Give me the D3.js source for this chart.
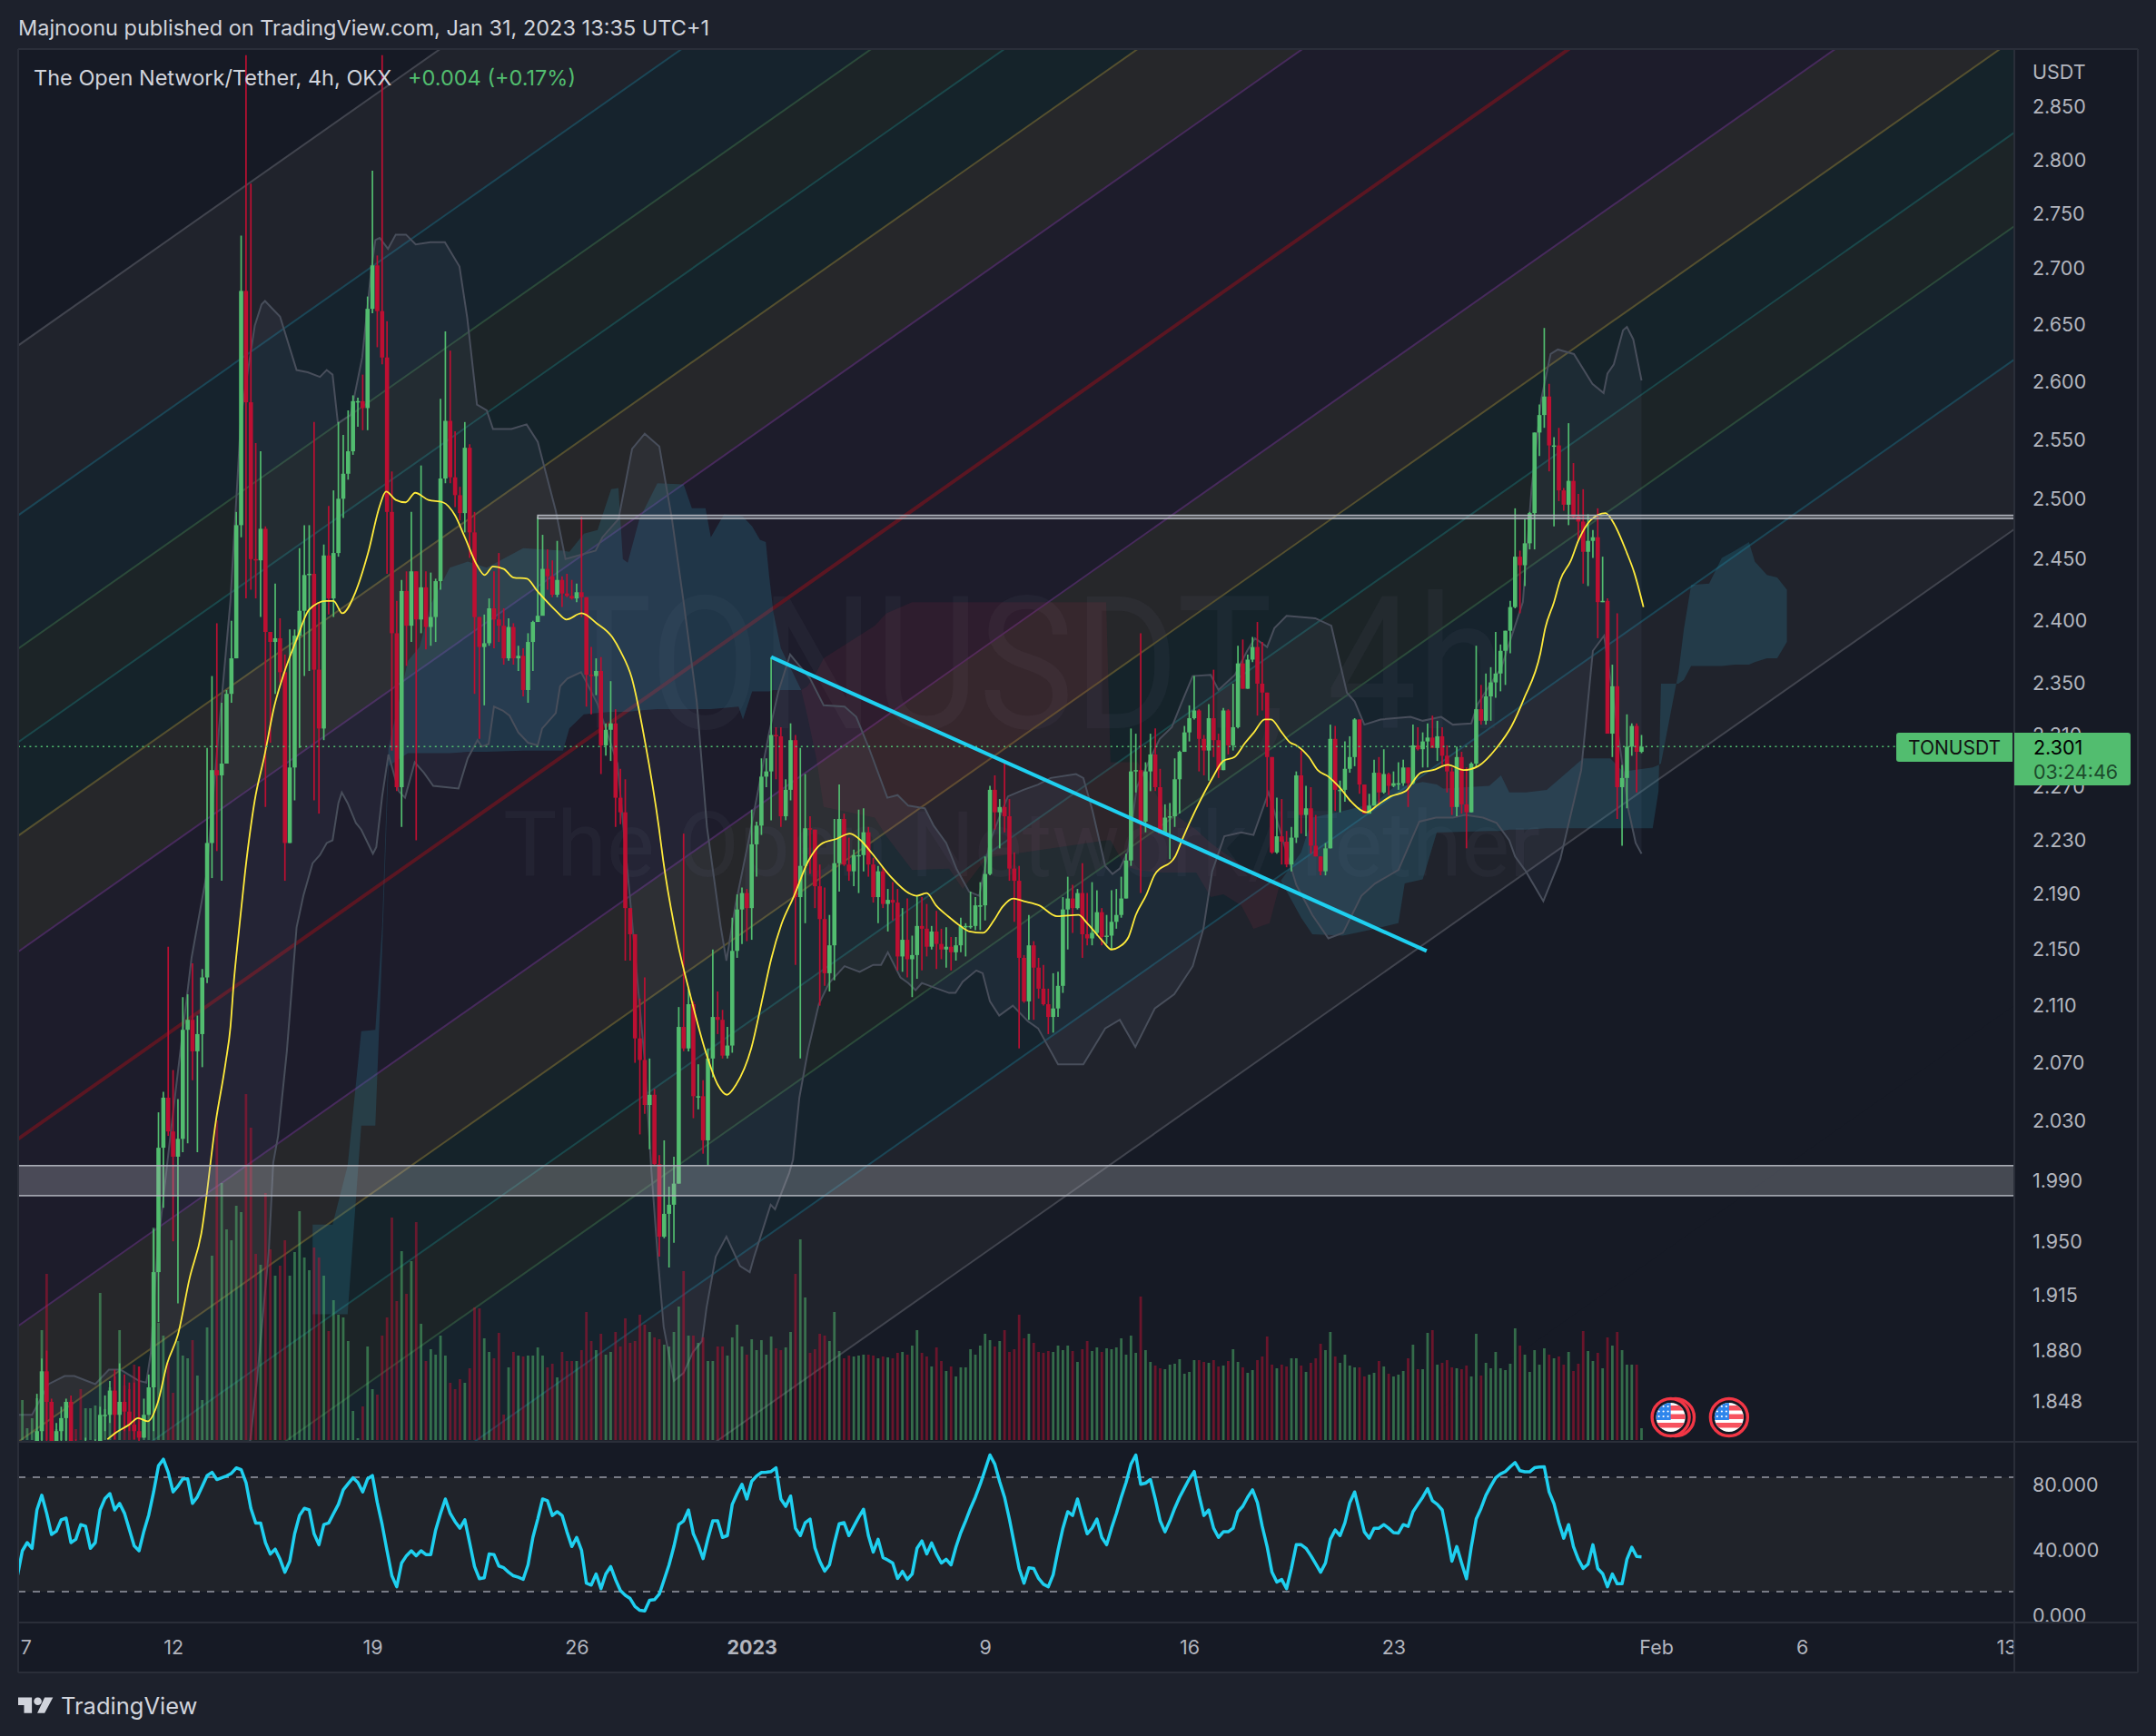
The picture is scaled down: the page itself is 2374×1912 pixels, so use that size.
<!DOCTYPE html>
<html>
<head lang="en">
<meta charset="utf-8">
<title>TONUSDT 4h</title>
<style>
html, body { margin:0; padding:0; background:#1d212c; }
svg { display:block; }
text { font-family:Inter,Roboto,"Noto Sans",sans-serif; }
.axis path, .axis line { display:none; }
.axis text { font-family:Inter,Roboto,"Noto Sans",sans-serif; font-size:21.5px; fill:#b2b5be; }
</style>
<script src="https://cdnjs.cloudflare.com/ajax/libs/d3/7.8.5/d3.min.js"></script>
</head>
<body>
<script>
// closes, highs, lows are read bar by bar (4h bars, index 0 = 7 Dec 00:00); a bar opens on the previous close
var closes = [1.805,1.81,1.815,1.83,1.867,1.848,1.82,1.83,1.838,1.848,
1.82,1.815,1.81,1.812,1.815,1.818,1.84,1.84,1.855,1.84,
1.848,1.842,1.834,1.83,1.826,1.84,1.857,1.93,2.012,2.046,
2.023,2.006,2.018,2.093,2.1,2.078,2.09,2.13,2.228,2.283,
2.279,2.288,2.342,2.37,2.478,2.68,2.582,2.45,2.449,2.475,
2.391,2.383,2.386,2.359,2.228,2.285,2.388,2.408,2.437,2.438,
2.361,2.315,2.453,2.418,2.455,2.5,2.521,2.54,2.583,2.583,
2.577,2.664,2.703,2.662,2.621,2.489,2.39,2.27,2.424,2.396,
2.44,2.401,2.427,2.395,2.403,2.432,2.517,2.566,2.518,2.503,
2.488,2.543,2.472,2.403,2.379,2.382,2.41,2.401,2.396,2.37,
2.395,2.37,2.372,2.345,2.383,2.399,2.404,2.442,2.436,2.421,
2.433,2.422,2.42,2.418,2.423,2.419,2.357,2.356,2.36,2.302,
2.314,2.319,2.262,2.251,2.18,2.161,2.087,2.072,2.041,2.048,
2.001,1.953,1.968,1.974,1.988,2.095,2.08,2.111,2.047,2.047,
2.017,2.073,2.102,2.1,2.075,2.082,2.149,2.179,2.191,2.18,
2.227,2.241,2.278,2.282,2.31,2.309,2.248,2.268,2.306,2.188,
2.211,2.239,2.238,2.196,2.172,2.133,2.153,2.213,2.246,2.212,
2.207,2.219,2.219,2.236,2.212,2.188,2.207,2.183,2.186,2.184,
2.145,2.157,2.143,2.146,2.167,2.165,2.152,2.163,2.154,2.15,
2.152,2.148,2.153,2.167,2.167,2.167,2.182,2.182,2.205,2.268,
2.251,2.255,2.248,2.209,2.2,2.144,2.113,2.153,2.137,2.122,
2.111,2.102,2.108,2.124,2.179,2.187,2.18,2.191,2.161,2.158,
2.162,2.177,2.159,2.16,2.17,2.175,2.187,2.215,2.282,2.283,
2.244,2.282,2.295,2.27,2.235,2.247,2.248,2.276,2.297,2.312,
2.323,2.329,2.307,2.298,2.323,2.306,2.283,2.329,2.302,2.316,
2.366,2.346,2.369,2.379,2.35,2.343,2.293,2.221,2.233,2.229,
2.212,2.232,2.279,2.249,2.254,2.226,2.218,2.207,2.224,2.307,
2.268,2.268,2.284,2.293,2.322,2.272,2.25,2.256,2.281,2.266,
2.28,2.271,2.273,2.273,2.285,2.273,2.302,2.299,2.305,2.308,
2.3,2.309,2.294,2.282,2.255,2.293,2.257,2.251,2.288,2.33,
2.321,2.34,2.351,2.358,2.376,2.392,2.411,2.452,2.445,2.463,
2.488,2.556,2.571,2.587,2.545,2.545,2.507,2.495,2.515,2.485,
2.481,2.456,2.465,2.468,2.415,2.416,2.311,2.348,2.27,2.277,
2.301,2.317,2.297,2.301];

var highs = [1.815,1.818,1.82,1.853,1.875,1.88,1.85,1.835,1.845,1.85,
1.852,1.825,1.82,1.826,1.822,1.825,1.845,1.852,1.861,1.868,
1.872,1.865,1.86,1.86,1.87,1.85,1.865,1.958,2.036,2.05,
2.152,2.065,2.045,2.116,2.118,2.14,2.103,2.136,2.3,2.356,
2.398,2.335,2.345,2.4,2.489,2.73,2.9,2.778,2.547,2.54,
2.477,2.391,2.43,2.402,2.373,2.393,2.393,2.459,2.478,2.478,
2.565,2.415,2.462,2.494,2.507,2.565,2.554,2.575,2.588,2.586,
2.606,2.675,2.79,2.712,2.9,2.653,2.523,2.416,2.433,2.44,
2.489,2.44,2.528,2.44,2.439,2.434,2.585,2.644,2.627,2.557,
2.51,2.565,2.546,2.489,2.403,2.405,2.418,2.44,2.455,2.41,
2.402,2.398,2.38,2.378,2.39,2.4,2.485,2.47,2.458,2.449,
2.465,2.436,2.438,2.433,2.43,2.485,2.419,2.379,2.37,2.371,
2.319,2.352,2.33,2.284,2.276,2.18,2.161,2.115,2.13,2.073,
2.052,2.007,2.017,1.986,2.006,2.109,2.235,2.122,2.113,2.069,
2.058,2.08,2.15,2.12,2.107,2.095,2.173,2.19,2.195,2.194,
2.253,2.244,2.292,2.292,2.371,2.316,2.316,2.276,2.319,2.31,
2.3,2.28,2.248,2.238,2.212,2.195,2.175,2.246,2.272,2.25,
2.232,2.223,2.253,2.254,2.24,2.217,2.211,2.21,2.194,2.199,
2.194,2.18,2.187,2.16,2.189,2.188,2.183,2.167,2.178,2.165,
2.166,2.159,2.159,2.173,2.169,2.192,2.188,2.199,2.218,2.271,
2.279,2.261,2.289,2.261,2.221,2.211,2.146,2.175,2.156,2.144,
2.139,2.122,2.133,2.134,2.188,2.203,2.197,2.194,2.213,2.191,
2.199,2.193,2.18,2.175,2.193,2.194,2.203,2.22,2.315,2.311,
2.39,2.289,2.311,2.315,2.284,2.257,2.258,2.292,2.298,2.317,
2.333,2.356,2.33,2.31,2.334,2.361,2.311,2.331,2.33,2.35,
2.38,2.385,2.373,2.387,2.399,2.383,2.343,2.293,2.262,2.261,
2.237,2.24,2.282,2.298,2.271,2.27,2.249,2.218,2.228,2.318,
2.317,2.275,2.305,2.309,2.323,2.322,2.272,2.265,2.291,2.293,
2.299,2.281,2.282,2.289,2.291,2.285,2.318,2.316,2.312,2.319,
2.325,2.321,2.316,2.302,2.285,2.301,2.297,2.285,2.289,2.38,
2.349,2.358,2.363,2.391,2.381,2.392,2.416,2.492,2.457,2.483,
2.489,2.556,2.58,2.647,2.598,2.552,2.56,2.509,2.564,2.53,
2.504,2.508,2.487,2.474,2.492,2.452,2.418,2.365,2.406,2.287,
2.326,2.319,2.319,2.31];

var lows = [1.8,1.8,1.805,1.81,1.815,1.82,1.81,1.81,1.81,1.82,
1.81,1.805,1.8,1.8,1.805,1.81,1.815,1.83,1.835,1.825,
1.83,1.83,1.83,1.825,1.82,1.826,1.84,1.83,1.898,1.972,
2.02,1.95,1.91,2.009,2.015,2.058,2.009,2.067,2.126,2.202,
2.222,2.2,2.288,2.335,2.37,2.468,2.418,2.425,2.418,2.403,
2.255,2.304,2.342,2.351,2.2,2.228,2.26,2.3,2.356,2.36,
2.26,2.25,2.306,2.405,2.403,2.452,2.484,2.516,2.537,2.561,
2.558,2.558,2.66,2.63,2.615,2.438,2.298,2.267,2.24,2.364,
2.383,2.23,2.39,2.377,2.38,2.383,2.425,2.513,2.513,2.493,
2.482,2.472,2.451,2.342,2.307,2.333,2.38,2.378,2.383,2.365,
2.368,2.365,2.36,2.34,2.335,2.36,2.4,2.406,2.425,2.419,
2.419,2.411,2.419,2.417,2.415,2.403,2.332,2.326,2.341,2.28,
2.294,2.29,2.24,2.242,2.142,2.142,2.07,2.021,2.035,2.011,
2.0,1.94,1.952,1.933,1.949,1.988,2.078,2.078,2.032,2.038,
2.008,2.0,2.06,2.09,2.073,2.073,2.077,2.144,2.154,2.156,
2.157,2.203,2.234,2.27,2.245,2.276,2.24,2.245,2.26,2.139,
2.073,2.169,2.205,2.18,2.11,2.124,2.12,2.128,2.192,2.211,
2.2,2.196,2.191,2.207,2.203,2.184,2.169,2.18,2.163,2.171,
2.135,2.134,2.13,2.116,2.129,2.135,2.145,2.15,2.136,2.143,
2.137,2.135,2.142,2.148,2.145,2.165,2.164,2.164,2.171,2.204,
2.238,2.224,2.236,2.2,2.17,2.08,2.112,2.1,2.1,2.115,
2.11,2.09,2.091,2.102,2.119,2.15,2.162,2.179,2.144,2.153,
2.153,2.16,2.153,2.154,2.15,2.165,2.173,2.187,2.211,2.266,
2.191,2.236,2.267,2.267,2.235,2.235,2.216,2.24,2.25,2.297,
2.305,2.322,2.282,2.279,2.275,2.293,2.277,2.283,2.295,2.298,
2.315,2.346,2.346,2.367,2.325,2.329,2.255,2.22,2.22,2.212,
2.21,2.207,2.228,2.235,2.233,2.22,2.218,2.204,2.204,2.224,
2.252,2.251,2.259,2.281,2.286,2.265,2.25,2.25,2.256,2.257,
2.265,2.264,2.27,2.268,2.271,2.255,2.272,2.298,2.285,2.285,
2.3,2.29,2.287,2.266,2.249,2.248,2.25,2.224,2.251,2.285,
2.318,2.318,2.321,2.339,2.344,2.349,2.374,2.41,2.406,2.428,
2.458,2.458,2.536,2.56,2.523,2.477,2.498,2.49,2.478,2.483,
2.465,2.43,2.428,2.451,2.386,2.415,2.311,2.293,2.246,2.226,
2.254,2.294,2.266,2.296];

var volumes = [44,13,24,46,121,183,38,12,16,42,
44,12,56,35,35,38,162,34,58,70,
121,60,56,83,81,14,42,234,129,115,
85,52,109,93,90,110,71,44,124,203,
352,283,232,220,258,251,381,344,205,193,
272,210,181,192,220,181,207,252,201,187,
212,201,181,120,154,138,135,109,32,2,
37,103,56,50,115,135,245,153,208,161,
197,240,128,87,100,94,115,93,63,56,
67,63,79,146,145,112,97,90,118,28,
80,97,93,92,93,93,102,93,80,84,
69,97,87,87,87,99,141,109,99,117,
94,97,119,103,134,107,109,138,127,119,
113,111,105,103,119,147,186,115,115,107,
113,87,87,103,103,
93,113,127,103,94,111,99,110,94,114,
101,99,102,119,183,221,157,96,100,117,
115,109,141,98,90,93,92,93,94,94,
93,90,92,91,90,96,97,94,104,121,
96,92,81,102,87,76,81,70,80,80,
100,94,104,117,110,103,109,121,97,100,
138,112,117,107,97,96,98,97,104,99,
104,98,86,100,109,98,102,97,101,100,
102,112,94,115,96,158,99,86,82,79,
78,83,84,89,73,75,88,88,86,85,
88,81,82,87,100,86,80,74,77,88,
92,114,83,79,83,81,90,90,82,75,
85,90,106,99,119,92,85,94,82,80,
80,70,72,74,87,81,73,70,72,76,
90,105,78,78,118,121,83,85,88,80,
79,78,82,70,117,71,85,79,97,79,
77,84,123,104,94,75,99,83,101,94,
90,92,83,97,76,84,120,98,87,96,
79,113,104,119,99,83,83,83,13];

// first value belongs to the bar just left of index 0
var rsiValues = [24.7,40,45,41.5,65,74,63,50,52,59,60,
45,47,56,55,41.5,45,65,72,75,65,
69,63,53,43,40,52,62,76,92,96,
88,76,79.5,84,84,69,73,79.5,86,88,
83.6,84.7,85.8,87.4,90.7,89.6,81.8,66,57,57,
45,38,41,34.8,26.9,33.6,50.4,61.6,66,65,
50.4,43.7,56,57,62.8,68.4,77.3,81,84.7,81.8,
76,84,86,69.5,56,40,24.7,18,32.5,37,
40,37,40,37.7,37.7,52.7,62.8,71.7,62.8,57.8,
53.8,59,44.8,30.3,22.9,23.5,38,37.7,30.7,29.6,
26.9,24.7,23.8,22.5,31.4,48.2,59.4,71.7,70.6,61.6,
63.9,61.6,51.6,42.6,48.2,40.4,20.2,19,25.8,16.8,
25.8,30.3,22.4,15.7,12.8,10.8,5.9,3.6,3.2,9.7,
10.1,13.5,22.4,31.4,42.6,56,58.3,65,50.4,43.7,
35.2,47.5,58.3,58.3,48.2,49.3,68.4,75,80.7,71.7,
82.5,85.8,87.9,88,88.5,90.8,71.7,67.2,73.5,53.8,
49.3,57.2,59.4,41.9,33.6,27.6,31.4,44.8,56.5,57.2,
49.3,54.9,60.5,65.4,49.3,39.2,47,35.9,34.3,32.5,
23.1,27.4,22.4,25.8,41.5,46,38.1,44.8,38,32.5,
34.8,31.4,42.2,51.1,58.3,66,72.8,80.7,89.6,98.6,
93,82.2,72.8,59.4,44.2,29.2,20.2,29.6,29.2,23.1,
19.5,18,25.3,40.3,53.8,63.9,61.6,71.7,60.5,50.4,
53.8,59.4,48.2,43.7,53.8,62.8,72.8,81.8,93,98.6,
80.7,81.4,83.6,71.7,58.3,51.6,58.3,66,72.8,78.4,
84,88.5,74,61.6,65,53.8,48.2,51.6,51.6,53.8,
63.9,67.2,72.8,77.3,69.5,54.9,42.6,26.9,20.9,22.4,
16.8,29.2,43.7,43.7,41.5,37,32,26.9,32.5,47,
52.7,49.3,57.2,69.5,76,63.9,51.6,47.7,53.8,53.8,
56,53.8,51.1,50.9,56,54.9,63.9,68.4,72.8,78,
70.6,68.4,65,50.4,33.6,42.6,32.5,22.9,42.6,59.4,
66,74,79.5,84.7,87,88.5,91.4,94,89,88.3,
88.3,90.8,91.2,91.4,76,68.8,57.2,47.7,56,42.6,
34.8,29.2,31.8,43.7,29.2,26,18,25.8,19.8,19.8,
34.8,42.2,36.5,36.3];

var emaBars = [17.5,19.2,22,23.8,25.8,27.8,29.8,32,34.4,36.8,39.8,41.8,42.8,43.5,44.5,45.8,47.8,49.8,51.8,53.8,56.5,59,62.5,64,65.8,68.5,71.1,73.5,74.8,76.8,78.8,80.8,83.5,86.5,89,91,93.5,95.1,96.8,99,101,103.8,105.7,107.5,110,111.9,115,118.1,121.3,123.1,125.3,128.1,130.9,131.8,134.7,137.4,140.5,143,144.9,146.8,149.9,152.4,154,156.1,158.6,161.7,164.2,167.4,170.2,172.7,174.8,178.6,182.3,183.9,186,187.9,190.4,192.9,194.8,197.6,199.8,201.6,203.8,206,209.1,212.8,217.2,219,222.2,224,225.6,227.5,229,231.2,232.8,237.1,238.7,241.2,244.6,247,249.3,251.5,253.3,255.5,256.8,259,260.8,262,264.6,266.4,268.6,271.1,273.3,276.4,278.9,281.4,284.5,287.6,290.1,293.2,296.4,299.4,303.2,306.3,308.8,312.2,313.2,315,316.3,318.5,320,322.5,325.6,327.5,330,331.5,333.4];
var emaValues = [1.825,1.829,1.834,1.838,1.836,1.847,1.872,1.89,1.926,1.955,2.03,2.07,2.095,2.127,2.162,2.206,2.26,2.294,2.332,2.358,2.386,2.409,2.416,2.416,2.406,2.423,2.455,2.494,2.506,2.499,2.497,2.505,2.499,2.497,2.486,2.468,2.445,2.437,2.444,2.442,2.435,2.434,2.425,2.417,2.407,2.401,2.406,2.398,2.387,2.375,2.355,2.304,2.24,2.215,2.156,2.117,2.078,2.055,2.048,2.055,2.08,2.118,2.143,2.168,2.188,2.215,2.227,2.231,2.235,2.229,2.22,2.203,2.191,2.189,2.191,2.182,2.174,2.167,2.163,2.162,2.171,2.181,2.187,2.185,2.182,2.174,2.175,2.169,2.156,2.15,2.152,2.159,2.175,2.19,2.204,2.218,2.232,2.252,2.276,2.29,2.293,2.304,2.312,2.322,2.322,2.312,2.304,2.302,2.293,2.283,2.278,2.269,2.259,2.251,2.257,2.263,2.267,2.281,2.283,2.287,2.283,2.286,2.3,2.317,2.338,2.374,2.394,2.415,2.433,2.449,2.465,2.482,2.488,2.478,2.455,2.439,2.411];

var bbUpperBars = [-1,2,5.4,8.7,10.7,15,17.8,20.2,24,25.5,26.4,27.8,31,34.8,37.8,40.4,42.8,45,47.8,49.2,49.9,53,56.4,58.7,61.2,62.6,63.8,64.9,67.5,69.9,71.8,72.6,73.5,75.2,76.8,78.9,80.9,83.9,86.9,89.9,91.5,93.5,95.5,96.8,100.6,103.7,106,109.7,111.7,117.9,119.3,122.6,125.4,128,131,133.6,136,138.7,140.8,143.6,144.8,146.7,149.1,153.6,155.5,157.9,159.4,162,164.8,169.1,171.5,174.1,177.9,180,182.2,185.6,187.4,190,192.1,194.7,196.8,199,200.9,202.7,205.9,208.9,211.5,216.7,218.2,220.1,222.7,224.2,225.7,227.4,229.2,233.9,236.4,238.2,240.7,244.4,246,249.4,251.9,253.5,256,257.5,260,265.9,269.2,272.4,274,276,279.3,285.5,288,291.8,294.2,298,299.3,304.2,308.6,310.4,312.4,314.3,315.8,319.1,322.9,325.2,326,327.3,329.2,330,331.3,333];
var bbUpperValues = [1.84,1.84,1.859,1.864,1.864,1.859,1.868,1.868,1.861,1.86,1.878,1.945,2.036,2.144,2.203,2.313,2.416,2.571,2.649,2.668,2.671,2.657,2.61,2.608,2.604,2.61,2.606,2.564,2.571,2.621,2.7,2.726,2.728,2.718,2.731,2.731,2.722,2.724,2.724,2.702,2.656,2.58,2.575,2.559,2.559,2.563,2.548,2.49,2.45,2.457,2.468,2.483,2.542,2.555,2.544,2.483,2.415,2.336,2.24,2.167,2.142,2.183,2.225,2.312,2.344,2.373,2.366,2.354,2.333,2.332,2.324,2.3,2.262,2.264,2.256,2.254,2.241,2.228,2.209,2.192,2.189,2.229,2.247,2.263,2.268,2.272,2.277,2.28,2.277,2.252,2.211,2.205,2.209,2.222,2.27,2.307,2.316,2.333,2.356,2.357,2.345,2.357,2.376,2.386,2.379,2.394,2.404,2.402,2.396,2.343,2.336,2.318,2.322,2.324,2.321,2.324,2.318,2.319,2.334,2.363,2.415,2.509,2.585,2.624,2.628,2.624,2.598,2.59,2.607,2.615,2.645,2.648,2.637,2.601];
var bbLowerBars = [-1,44,46.9,48.3,50.7,51.6,52.6,54.4,56.4,57.8,59.7,61.2,62.6,63.8,65,65.7,66.9,68.6,69.7,72.1,72.8,74,75.3,77.4,78.7,80.7,82.6,84.5,89.7,91.6,93.6,94.5,95.9,97,98.8,100.2,102,104,106,106.9,109.7,110.6,112.1,114.9,116.3,118.3,122.4,124.9,128,129.3,130.7,131.9,134,136,137.9,139.8,140.7,142.6,144.8,147.6,149.6,150.5,153.9,154.8,157.7,158.5,159.8,161.6,163.8,165.9,169.1,172.2,175,176.6,178,180.6,182.2,183.7,185,187.4,190.6,191.9,193.4,196.2,197.5,199,200.9,203.7,206.8,208.9,213,218.2,222.7,225.7,228.9,232.9,236.9,240.7,242.9,244.7,247.2,250.7,253.2,256.3,262,265.3,268.6,271.6,275.4,278.2,283,287.3,290.7,294.2,296.7,300.4,303.2,305.8,307,309.2,312.8,316.3,320.6,323,325.3,327.7,330.3,331.8,333];
var bbLowerValues = [1.78,1.78,1.825,1.863,1.944,2.002,2.02,2.078,2.166,2.189,2.213,2.219,2.228,2.23,2.258,2.266,2.258,2.243,2.238,2.22,2.225,2.263,2.295,2.267,2.262,2.289,2.281,2.271,2.269,2.292,2.306,2.301,2.303,2.332,2.329,2.325,2.312,2.304,2.302,2.315,2.327,2.348,2.354,2.359,2.349,2.334,2.288,2.19,2.071,2.0,1.939,1.895,1.861,1.866,1.879,1.886,1.907,1.94,1.953,1.934,1.93,1.94,1.974,1.971,1.995,2.004,2.046,2.079,2.111,2.126,2.138,2.134,2.139,2.139,2.148,2.13,2.126,2.121,2.126,2.123,2.119,2.119,2.127,2.135,2.133,2.113,2.103,2.11,2.099,2.094,2.069,2.069,2.094,2.1,2.081,2.108,2.118,2.138,2.165,2.207,2.233,2.236,2.234,2.266,2.197,2.175,2.158,2.162,2.189,2.198,2.208,2.244,2.247,2.247,2.249,2.247,2.243,2.23,2.218,2.207,2.185,2.216,2.283,2.376,2.388,2.325,2.253,2.228,2.22];

// ichimoku cloud, three stretches between the crossings
var cloud1Bars = [59.7,63.8,66.9,69.7,72.6,74,75.3,79.3,81.7,84.1,87.9,91.6,95.5,103,111.2,112.5,115.5,118.3,121.1,122.6,123.5,124.5,126.9,130.6,136,137.7,140.5,141.6,144.3,147.3,148.2,150.1,151.7,152.9,153.6,154.5,156,160.2];
var cloud1Top = [1.961,1.961,2.0,2.092,2.093,2.167,2.3,2.368,2.379,2.414,2.443,2.448,2.443,2.459,2.457,2.456,2.471,2.474,2.508,2.509,2.45,2.447,2.483,2.513,2.512,2.492,2.492,2.468,2.487,2.486,2.485,2.477,2.466,2.464,2.436,2.406,2.378,2.345];
var cloud1Bottom = [1.903,1.903,1.903,2.027,2.027,2.149,2.286,2.296,2.296,2.296,2.296,2.297,2.297,2.298,2.298,2.315,2.326,2.327,2.328,2.328,2.328,2.328,2.329,2.33,2.33,2.33,2.33,2.33,2.331,2.332,2.322,2.344,2.344,2.344,2.344,2.345,2.345,2.345];
var cloud2Bars = [160.2,161.5,163.3,164.8,175.3,177.7,183,190.6,193.4,198.3,222.9,223.8,226.8,229.4,234.5,241.4,244.4,247,250.7,253.2,256.5,258.8];
var cloud2Top = [2.345,2.348,2.359,2.37,2.396,2.406,2.415,2.415,2.415,2.415,2.415,2.289,2.289,2.289,2.256,2.238,2.228,2.221,2.212,2.207,2.201,2.2];
var cloud2Bottom = [2.345,2.324,2.292,2.255,2.247,2.233,2.208,2.209,2.194,2.217,2.23,2.23,2.211,2.208,2.206,2.206,2.188,2.19,2.182,2.165,2.169,2.2];
var cloud3Bars = [258.8,263,265.3,271.6,278.2,283,284.3,288,290.9,292.2,301.7,304.1,305.8,309.2,313.5,315.4,321,326.6,329.2,335.3,336.5,337,340.6,341.7,343.2,346.9,349.5,352.2,355.1,356.3,358.8,360.9,362.9];
var cloud3Top = [2.2,2.221,2.247,2.252,2.258,2.273,2.271,2.274,2.272,2.269,2.271,2.279,2.266,2.266,2.268,2.274,2.292,2.292,2.282,2.285,2.287,2.288,2.359,2.393,2.429,2.43,2.451,2.457,2.464,2.448,2.437,2.435,2.425];
var cloud3Bottom = [2.2,2.173,2.161,2.16,2.165,2.169,2.198,2.201,2.236,2.236,2.237,2.237,2.238,2.238,2.239,2.239,2.239,2.239,2.239,2.239,2.267,2.35,2.35,2.353,2.364,2.364,2.364,2.365,2.365,2.367,2.37,2.37,2.383];

// fib channel: middle line through two anchors, levels as fractions of the half width
var channelBars = [-0.86,409.7];
var channelMid = [2.018,3.227];
var channelSpread = 1.304;
var channelLevels = [1.6,1,0.786,0.618,0.5,0.382,0.236,0,-0.236,-0.382,-0.5,-0.618,-0.786,-1,-1.6];
var channelFills = ["#161a25","#20232c","#16232d","#1c2427","#15232a","#26272a","#1d1c2b","#1d1c2b","#26272a","#15232a","#1c2427","#16232d","#20232c","#161a25"];
var channelStrokes = [null,"#41444e","#1b4656","#2b4a3a","#1a484b","#55502f","#472a5c","#5a1622","#472a5c","#55502f","#1a484b","#2b4a3a","#1b4656","#41444e",null];

var trendBars = [154,288.8];
var trendPrices = [2.371,2.149];
var zoneTop = {bar:106,priceA:2.4862,priceB:2.4835};
var zoneBottom = {bar:-1,priceA:2.0,priceB:1.98};

var priceTicks = [2.85,2.8,2.75,2.7,2.65,2.6,2.55,2.5,2.45,2.4,2.35,2.31,2.27,2.23,2.19,2.15,2.11,2.07,2.03,1.99,1.95,1.915,1.88,1.848];
var rsiTicks = [80,40,0];
var timeTickBars = [0.7,31,72,114,150,198,240,282,336,366,408];
var timeTickLabels = ["7","12","19","26","2023","9","16","23","Feb","6","13"];
var eventBars = [340,339,351];
var lastPrice = 2.301;

var width = 2374, height = 1912;
var paneL = 20, paneR = 2218, axisR = 2354, paneT = 54, paneB = 1588, rsiB = 1787, timeB = 1842;
var green = "#52bd6f", red = "#bd0f32";

var x = d3.scaleLinear().domain([0,333]).range([24.6,1807.5]);
var y = d3.scaleLog().domain([2.85,1.848]).range([118,1544]);
var yVol = d3.scaleLinear().domain([0,400]).range([1586,1186]);
var yRsi = d3.scaleLinear().domain([0,80]).range([1780,1636]);

var svg = d3.select("body").append("svg").attr("width",width).attr("height",height);
svg.append("rect").attr("width",width).attr("height",height).attr("fill","#1d212c");
svg.append("rect").attr("x",paneL).attr("y",paneT).attr("width",axisR-paneL).attr("height",timeB-paneT).attr("fill","#161a25");

var defs = svg.append("defs");
defs.append("clipPath").attr("id","mainClip").append("rect").attr("x",paneL).attr("y",paneT).attr("width",paneR-paneL).attr("height",paneB-paneT);
defs.append("clipPath").attr("id","rsiClip").append("rect").attr("x",paneL).attr("y",paneB).attr("width",paneR-paneL).attr("height",rsiB-paneB);
defs.append("clipPath").attr("id","timeClip").append("rect").attr("x",paneL).attr("y",rsiB).attr("width",paneR-paneL).attr("height",timeB-rsiB);
defs.append("clipPath").attr("id","rsiAxisClip").append("rect").attr("x",paneR).attr("y",paneB).attr("width",axisR-paneR).attr("height",rsiB-paneB);
defs.append("clipPath").attr("id","flagClip").append("circle").attr("r",16);

var main = svg.append("g").attr("clip-path","url(#mainClip)");

// channel bands and lines
function midPrice(bar) {
    var t = (bar-channelBars[0])/(channelBars[1]-channelBars[0]);
    return channelMid[0]*Math.pow(channelMid[1]/channelMid[0],t);
}
function levelPrice(bar,level) {
    return midPrice(bar)*Math.pow(channelSpread,level);
}
channelFills.forEach(function(c,i) {
    var band = d3.area()
        .x(function(b) { return x(b); })
        .y0(function(b) { return y(levelPrice(b,channelLevels[i])); })
        .y1(function(b) { return y(levelPrice(b,channelLevels[i+1])); });
    main.append("path").attr("d",band(channelBars)).attr("fill",c);
});

// watermark
main.append("text").attr("x",1135).attr("y",802).attr("text-anchor","middle")
    .attr("textLength",1045).attr("lengthAdjust","spacingAndGlyphs")
    .style("font-family","Roboto").style("font-size","205px").attr("fill","rgba(125,130,150,0.07)").text("TONUSDT, 4h");
main.append("text").attr("x",1125).attr("y",965).attr("text-anchor","middle")
    .attr("textLength",1142).attr("lengthAdjust","spacingAndGlyphs")
    .style("font-family","Roboto").style("font-size","101px").attr("fill","rgba(125,130,150,0.07)").text("The Open Network/Tether");

channelStrokes.forEach(function(c,i) {
    if (!c) return;
    var line = d3.line().x(function(b) { return x(b); }).y(function(b) { return y(levelPrice(b,channelLevels[i])); });
    main.append("path").attr("d",line(channelBars)).attr("fill","none").attr("stroke",c)
        .attr("stroke-width",channelLevels[i]==0 ? 4 : 2);
});

// cloud
function drawCloud(bars,top,bottom,color) {
    var area = d3.area()
        .x(function(d,i) { return x(bars[i]); })
        .y0(function(d,i) { return y(bottom[i]); })
        .y1(function(d,i) { return y(top[i]); });
    main.append("path").attr("d",area(bars)).attr("fill",color);
}
drawCloud(cloud1Bars,cloud1Top,cloud1Bottom,"rgba(45,130,158,0.25)");
drawCloud(cloud2Bars,cloud2Top,cloud2Bottom,"rgba(190,50,70,0.11)");
drawCloud(cloud3Bars,cloud3Top,cloud3Bottom,"rgba(45,130,158,0.25)");

// bollinger
var upperPts = bbUpperBars.map(function(b,i) { return [x(b),y(bbUpperValues[i])]; });
var lowerPts = bbLowerBars.map(function(b,i) { return [x(b),y(bbLowerValues[i])]; });
main.append("path").attr("d",d3.line()(upperPts.concat(lowerPts.slice().reverse()))+"Z").attr("fill","rgba(130,150,185,0.075)");
main.append("path").attr("d",d3.line()(upperPts)).attr("fill","none").attr("stroke","#484e5b").attr("stroke-width",2);
main.append("path").attr("d",d3.line()(lowerPts)).attr("fill","none").attr("stroke","#484e5b").attr("stroke-width",2);

// volume
function isUp(i) {
    var open = i==0 ? closes[0] : closes[i-1];
    return closes[i] >= open;
}
main.selectAll(".vol").data(volumes).enter().append("rect")
    .attr("class","vol")
    .attr("x",function(d,i) { return x(i)-1.4; })
    .attr("width",2.8)
    .attr("y",function(d) { return yVol(d); })
    .attr("height",function(d) { return yVol(0)-yVol(d); })
    .attr("fill",function(d,i) { return isUp(i) ? green : red; })
    .attr("opacity",0.5);

// candles
main.selectAll(".wick").data(closes).enter().append("line")
    .attr("class","wick")
    .attr("x1",function(d,i) { return x(i); })
    .attr("x2",function(d,i) { return x(i); })
    .attr("y1",function(d,i) { return y(highs[i]); })
    .attr("y2",function(d,i) { return y(lows[i]); })
    .attr("stroke",function(d,i) { return isUp(i) ? green : red; })
    .attr("stroke-width",1.7);
main.selectAll(".body").data(closes).enter().append("rect")
    .attr("class","body")
    .attr("x",function(d,i) { return x(i)-2.3; })
    .attr("width",4.6)
    .attr("y",function(d,i) { var o = i==0 ? d : closes[i-1]; return Math.min(y(o),y(d)); })
    .attr("height",function(d,i) { var o = i==0 ? d : closes[i-1]; return Math.max(1.5,Math.abs(y(o)-y(d))); })
    .attr("fill",function(d,i) { return isUp(i) ? green : red; });

// moving average
var emaLine = d3.line().x(function(b) { return x(b); }).y(function(b,i) { return y(emaValues[i]); }).curve(d3.curveMonotoneX);
main.append("path").attr("d",emaLine(emaBars)).attr("fill","none").attr("stroke","#ffeb3b").attr("stroke-width",1.8);

// last price line
main.append("line").attr("x1",paneL).attr("x2",2088).attr("y1",y(lastPrice)).attr("y2",y(lastPrice))
    .attr("stroke",green).attr("stroke-width",1.5).attr("stroke-dasharray","2 4.2");

// zones
function drawZone(z) {
    main.append("rect").attr("x",x(z.bar)).attr("width",paneR-x(z.bar))
        .attr("y",y(z.priceA)).attr("height",y(z.priceB)-y(z.priceA))
        .attr("fill","rgba(178,181,190,0.3)").attr("stroke","#b2b5be").attr("stroke-width",1.5);
}
drawZone(zoneTop);
drawZone(zoneBottom);

// trend line
main.append("line").attr("x1",x(trendBars[0])).attr("y1",y(trendPrices[0])).attr("x2",x(trendBars[1])).attr("y2",y(trendPrices[1]))
    .attr("stroke","#1fd0f0").attr("stroke-width",4.2);

// economic event flags
eventBars.forEach(function(b) {
    var g = main.append("g").attr("transform","translate("+x(b)+",1561)");
    g.append("circle").attr("r",20.5).attr("fill","#131722").attr("stroke","#f23645").attr("stroke-width",3.4);
    var f = g.append("g").attr("clip-path","url(#flagClip)");
    f.append("rect").attr("x",-17).attr("y",-17).attr("width",34).attr("height",34).attr("fill","#fff");
    [-13,-3.5,6].forEach(function(s) {
        f.append("rect").attr("x",-17).attr("y",s).attr("width",34).attr("height",5.5).attr("fill","#f7525f");
    });
    f.append("rect").attr("x",-17).attr("y",-17).attr("width",17).attr("height",20).attr("fill","#2f86ec");
    [-12,-6.5,-1].forEach(function(sy) {
        [-13,-8,-3].forEach(function(sx) {
            f.append("circle").attr("cx",sx).attr("cy",sy).attr("r",1.1).attr("fill","#fff");
        });
    });
});

// rsi pane
var rsiPane = svg.append("g").attr("clip-path","url(#rsiClip)");
rsiPane.append("rect").attr("x",paneL).attr("width",paneR-paneL).attr("y",yRsi(85)).attr("height",yRsi(15)-yRsi(85)).attr("fill","#20232a");
[85,15].forEach(function(v) {
    rsiPane.append("line").attr("x1",paneL).attr("x2",paneR).attr("y1",yRsi(v)).attr("y2",yRsi(v))
        .attr("stroke","#787b86").attr("stroke-width",1.8).attr("stroke-dasharray","8 8");
});
var rsiLine = d3.line().x(function(d,i) { return x(i-1); }).y(function(d) { return yRsi(d); });
rsiPane.append("path").attr("d",rsiLine(rsiValues)).attr("fill","none").attr("stroke","#1fd0f0").attr("stroke-width",3.5).attr("stroke-linejoin","round");

// axes
svg.append("g").attr("class","axis").attr("transform","translate("+paneR+",0)")
    .call(d3.axisRight(y).tickValues(priceTicks).tickSize(0).tickPadding(20).tickFormat(d3.format(".3f")));
svg.append("g").attr("clip-path","url(#rsiAxisClip)").append("g").attr("class","axis").attr("transform","translate("+paneR+",0)")
    .call(d3.axisRight(yRsi).tickValues(rsiTicks).tickSize(0).tickPadding(20).tickFormat(d3.format(".3f")));
var timeAxis = svg.append("g").attr("clip-path","url(#timeClip)").append("g").attr("class","axis").attr("transform","translate(0,"+rsiB+")")
    .call(d3.axisBottom(x).tickValues(timeTickBars).tickSize(0).tickPadding(20).tickFormat(function(d,i) { return timeTickLabels[i]; }));
timeAxis.selectAll("text").style("font-weight",function(d,i) { return timeTickLabels[i]=="2023" ? "700" : "400"; });
svg.append("text").attr("x",2238).attr("y",79).attr("dy",".35em").style("font-size","21.5px").attr("fill","#b2b5be").text("USDT");

// frame
[[paneL,paneT,axisR,paneT],[paneL,paneT,paneL,timeB],[paneL,timeB,axisR,timeB],[axisR,paneT,axisR,timeB],
 [paneR,paneT,paneR,timeB],[paneL,paneB,axisR,paneB],[paneL,rsiB,axisR,rsiB]].forEach(function(s) {
    svg.append("line").attr("x1",s[0]).attr("y1",s[1]).attr("x2",s[2]).attr("y2",s[3]).attr("stroke","#2a2e39").attr("stroke-width",2);
});

// price tags
svg.append("path").attr("d","M2091 807H2216V839H2091Q2088 839 2088 836V810Q2088 807 2091 807Z").attr("fill",green);
svg.append("text").attr("x",2152).attr("y",823).attr("dy",".36em").attr("text-anchor","middle").style("font-size","21px").attr("fill","#111").text("TONUSDT");
svg.append("path").attr("d","M2218 807H2343Q2346 807 2346 810V862Q2346 865 2343 865H2218Z").attr("fill",green);
svg.append("text").attr("x",2239).attr("y",823).attr("dy",".36em").style("font-size","21.5px").attr("fill","#000").text("2.301");
svg.append("text").attr("x",2239).attr("y",850).attr("dy",".36em").style("font-size","21.5px").attr("fill","#1c4a2c").text("03:24:46");

// header, legend, footer
svg.append("text").attr("x",20).attr("y",31).attr("dy",".36em").style("font-size","23.5px").attr("fill","#d1d4dc")
    .text("Majnoonu published on TradingView.com, Jan 31, 2023 13:35 UTC+1");
svg.append("text").attr("x",37).attr("y",86).attr("dy",".36em").style("font-size","23.5px").attr("fill","#d1d4dc").text("The Open Network/Tether, 4h, OKX");
svg.append("text").attr("x",449).attr("y",86).attr("dy",".36em").style("font-size","23.5px").attr("fill",green).text("+0.004 (+0.17%)");
svg.append("path").attr("transform","translate(20,1863) scale(1.08)")
    .attr("d","M14 6H0v8h6v8h8V6Zm13 16h-7.5L27 6h8.5l-8.5 16ZM20 6a4 4 0 1 1 0 8 4 4 0 0 1 0-8Z")
    .attr("fill","#d1d4dc");
svg.append("text").attr("x",67).attr("y",1879).attr("dy",".36em").style("font-size","25.5px").attr("fill","#d1d4dc").text("TradingView");
</script>
</body>
</html>
